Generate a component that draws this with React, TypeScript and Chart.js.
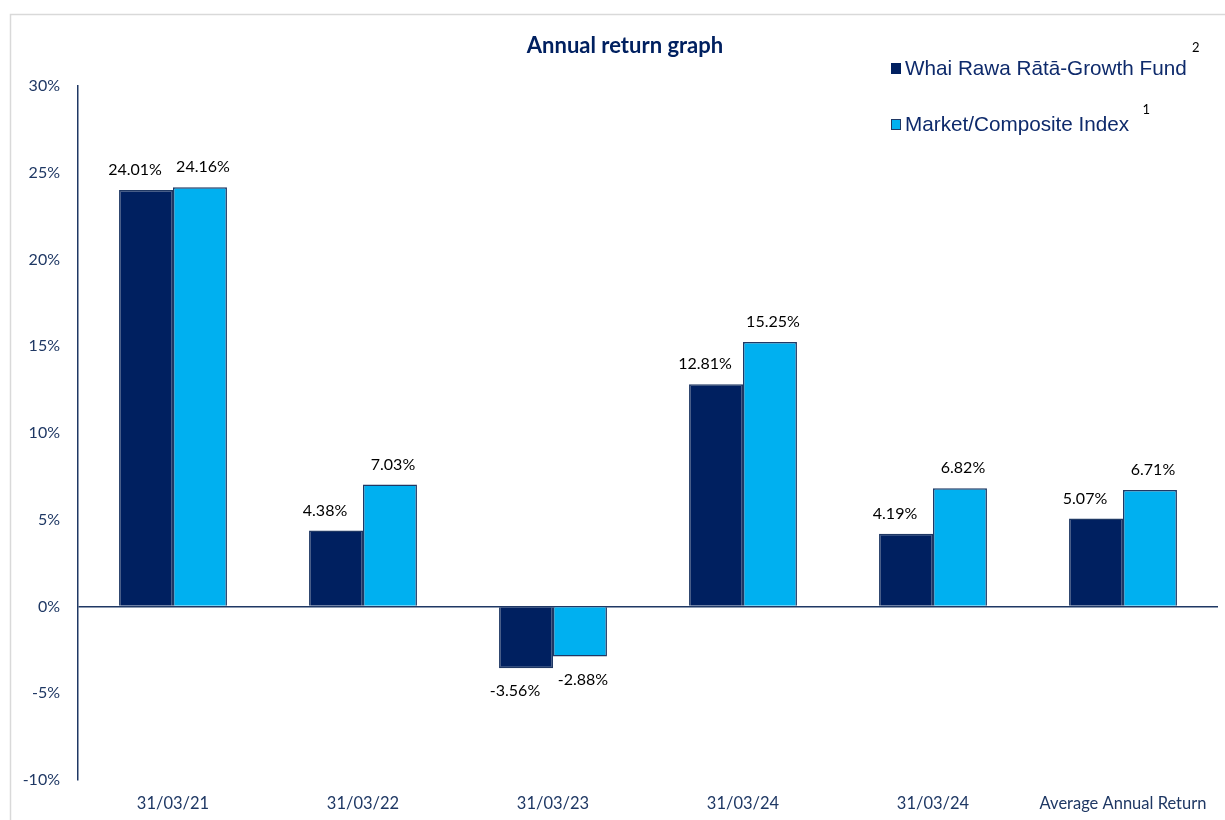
import React, { useEffect, useRef } from "react";
import { Chart, registerables } from "chart.js";

Chart.register(...registerables);

const categories = ["31/03/21", "31/03/22", "31/03/23", "31/03/24", "31/03/24", "Average Annual Return"];
const fundValues = [24.01, 4.38, -3.56, 12.81, 4.19, 5.07];
const indexValues = [24.16, 7.03, -2.88, 15.25, 6.82, 6.71];
const seriesNames = ["Whai Rawa Rātā-Growth Fund", "Market/Composite Index"];
const seriesNotes = ["2", "1"];
const titleText = "Annual return graph";

const NAVY = "#1F3864";
const DARK = "#002060";
const LIGHT = "#00B0F0";
const FONT = "Lato, 'Noto Sans', sans-serif";

const framePlugin = {
  id: "frame",
  beforeDraw(chart: any) {
    const ctx = chart.ctx;
    ctx.save();
    ctx.fillStyle = "#ffffff";
    ctx.fillRect(0, 0, chart.width, chart.height);
    ctx.strokeStyle = "#D9D9D9";
    ctx.lineWidth = 1.5;
    ctx.strokeRect(10.5, 14.5, chart.width + 20, chart.height + 20);
    ctx.restore();
  },
};

const labelsPlugin = {
  id: "barLabels",
  afterDatasetsDraw(chart: any) {
    const ctx = chart.ctx;
    ctx.save();
    ctx.font = `16px ${FONT}`;
    ctx.fillStyle = "#000000";
    ctx.textAlign = "center";
    chart.data.datasets.forEach((ds: any, di: number) => {
      const meta = chart.getDatasetMeta(di);
      const dx = di === 0 ? -11 : 3;
      meta.data.forEach((bar: any, i: number) => {
        const v = ds.data[i];
        const txt = v.toFixed(2) + "%";
        if (v >= 0) {
          ctx.textBaseline = "bottom";
          ctx.fillText(txt, bar.x + dx, bar.y - 12);
        } else {
          ctx.textBaseline = "top";
          ctx.fillText(txt, bar.x + dx, bar.y + 15);
        }
      });
    });
    ctx.restore();
  },
};

const headerPlugin = {
  id: "header",
  afterDraw(chart: any) {
    const ctx = chart.ctx;
    ctx.save();
    ctx.font = `bold 22px ${FONT}`;
    ctx.fillStyle = DARK;
    ctx.textAlign = "center";
    ctx.textBaseline = "middle";
    ctx.fillText(titleText, 625, 46);

    const rows = [68, 124];
    chart.data.datasets.forEach((ds: any, di: number) => {
      const y = rows[di];
      ctx.fillStyle = ds.backgroundColor;
      ctx.fillRect(891, y - 5, 10, 11);
      if (di === 1) {
        ctx.strokeStyle = NAVY;
        ctx.lineWidth = 1;
        ctx.strokeRect(891.5, y - 4.5, 9, 10);
      }
      ctx.font = "20.7px 'Liberation Sans', Arial, sans-serif";
      ctx.fillStyle = "#0E2A6B";
      ctx.textAlign = "left";
      ctx.textBaseline = "middle";
      ctx.fillText(ds.label, 905, y + 1);
      const w = ctx.measureText(ds.label).width;
      ctx.font = `13px ${FONT}`;
      ctx.fillStyle = "#000000";
      ctx.textAlign = "center";
      ctx.fillText(seriesNotes[di], 905 + w + (di === 0 ? 9 : 17), y - (di === 0 ? 20 : 14));
    });
    ctx.restore();
  },
};

export default function App() {
  const ref = useRef<HTMLCanvasElement>(null);
  useEffect(() => {
    if (!ref.current) return;
    const chart = new Chart(ref.current, {
      type: "bar",
      data: {
        labels: categories,
        datasets: [
          {
            label: seriesNames[0],
            data: fundValues,
            backgroundColor: DARK,
            borderColor: NAVY,
            borderWidth: 1.5,
            categoryPercentage: 0.568,
            barPercentage: 1,
          },
          {
            label: seriesNames[1],
            data: indexValues,
            backgroundColor: LIGHT,
            borderColor: NAVY,
            borderWidth: 1.5,
            categoryPercentage: 0.568,
            barPercentage: 1,
          },
        ],
      },
      options: {
        animation: false,
        responsive: false,
        maintainAspectRatio: false,
        layout: { padding: { left: 0, top: 86, right: 7, bottom: 0 } },
        plugins: { legend: { display: false }, tooltip: { enabled: false }, title: { display: false } },
        scales: {
          x: {
            grid: { display: false },
            border: { display: false },
            ticks: { color: NAVY, font: { family: FONT, size: 16.5 }, padding: 6, maxRotation: 0, autoSkip: false },
            afterFit: (s: any) => {
              s.height = 40;
            },
          },
          y: {
            min: -10,
            max: 30,
            ticks: {
              stepSize: 5,
              color: NAVY,
              font: { family: FONT, size: 16 },
              padding: 18,
              callback: (v: any) => v + "%",
            },
            grid: {
              drawTicks: false,
              color: (c: any) => (c.tick && c.tick.value === 0 ? NAVY : "rgba(0,0,0,0)"),
              lineWidth: 1.5,
            },
            border: { display: true, color: NAVY, width: 1.5 },
            afterFit: (s: any) => {
              s.width = 78;
            },
          },
        },
      },
      plugins: [framePlugin, labelsPlugin, headerPlugin],
    });
    return () => chart.destroy();
  }, []);
  return (
    <div style={{ position: "fixed", left: 0, top: 0, width: 1225, height: 820 }}>
      <canvas ref={ref} width={1225} height={820} style={{ width: 1225, height: 820, display: "block" }} />
    </div>
  );
}
